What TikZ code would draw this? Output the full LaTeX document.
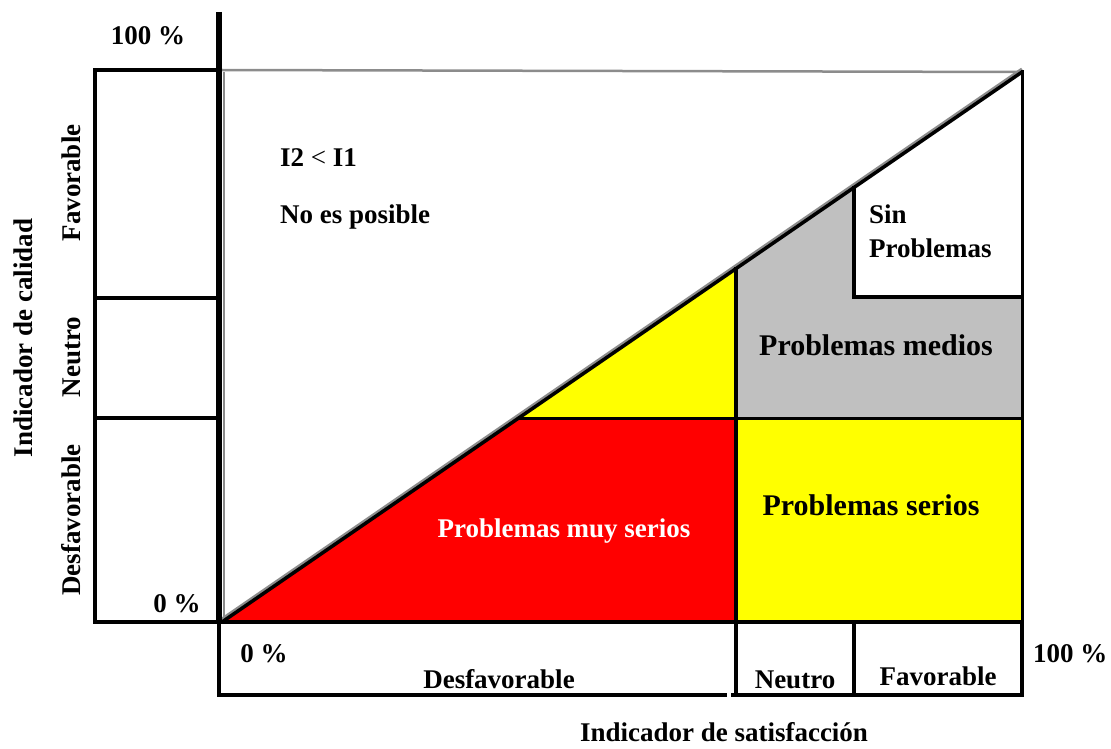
\documentclass[tikz,border=0pt]{standalone}
\usepackage{fontspec}
\setmainfont{Liberation Serif}
\definecolor{zonered}{RGB}{255,0,0}
\definecolor{zoneyellow}{RGB}{255,255,0}
\definecolor{zonegray}{RGB}{192,192,192}
\definecolor{edgegray}{RGB}{140,140,140}
\begin{document}
\begin{tikzpicture}[x=1pt,y=-1pt,
  lbl/.style={font=\fontsize{27}{30}\selectfont\bfseries, inner sep=0pt},
  zonelbl/.style={font=\fontsize{30}{33}\selectfont\bfseries, inner sep=0pt},
  frame/.style={line width=3.5pt, line cap=rect},
  heavy/.style={line width=5.5pt},
  shade/.style={edgegray, line width=2.5pt}]
\useasboundingbox (0,0) rectangle (1111,749);

% key points of the chart
\coordinate (O)  at (222,622);   % origin of the diagonal
\coordinate (T)  at (1022,72);   % top end of the diagonal
\coordinate (D1) at (518.7,418); % diagonal meets the upper limit of "desfavorable"
\coordinate (D2) at (736,268.6); % diagonal meets the neutral column
\coordinate (D3) at (854,187.5); % diagonal meets the favourable column

% coloured zones
\fill[zonered] (O) -- (D1) -- (736,418) -- (736,622) -- cycle;
\fill[zoneyellow] (D1) -- (D2) -- (736,418) -- cycle;
\fill[zonegray] (736,418) -- (D2) -- (D3) -- (854,297) -- (1022,297) -- (1022,418) -- cycle;
\fill[zoneyellow] (736,418) rectangle (1022,622);

% light edges of the plotting area
\draw[shade] (222,70) -- (T);
\draw[shade, line width=2pt] (223.5,72) -- (223.5,620);
\draw[shade, line width=3pt] (222,619) -- (1022,69);

% diagonal I1 = I2
\draw[line width=3.5pt] (O) -- (T);

% zone borders
\draw[frame] (D2) -- (736,695);
\draw[frame, line width=3pt] (D1) -- (1022,418);
\draw[frame] (D3) -- (854,297) -- (1022,297);
\draw[frame, line width=3pt] (T) -- (1022,622);

% quality scale on the left
\draw[frame, line width=4pt] (95,70) -- (219,70);
\draw[frame] (95,70) -- (95,622);
\draw[frame] (95,298) -- (219,298);
\draw[frame] (95,418) -- (219,418);

% satisfaction scale at the bottom
\draw[frame] (219,622) -- (219,695) -- (725,695);
\draw[frame] (733,695) -- (1022,695) -- (1022,622);
\draw[frame] (854,622) -- (854,695);

% axes
\draw[frame, line width=4.5pt] (95,622) -- (1022,622);
\draw[heavy] (219,12) -- (219,624);

% axis labels and scale marks
\node[lbl, anchor=base] (q100) at (148,45) {100 \%};
\node[lbl, anchor=base] (q0) at (177,612) {0 \%};
\node[lbl, anchor=base] (s0) at (264,662) {0 \%};
\node[lbl, anchor=base west] (s100) at (1033,662) {100 \%};

\node[lbl, anchor=base, rotate=90] (qlab) at (32,338) {Indicador de calidad};
\node[lbl, anchor=base, rotate=90] (qfav) at (80,183) {Favorable};
\node[lbl, anchor=base, rotate=90] (qneu) at (80,357) {Neutro};
\node[lbl, anchor=base, rotate=90] (qdes) at (80,520) {Desfavorable};

\node[lbl, anchor=base] (sdes) at (499,688) {Desfavorable};
\node[lbl, anchor=base] (sneu) at (795,688) {Neutro};
\node[lbl, anchor=base] (sfav) at (938,685) {Favorable};
\node[lbl, anchor=base] (slab) at (724,741) {Indicador de satisfacción};

% zone texts
\node[lbl, anchor=base west] (rel) at (280,167) {I2 \textmd{<} I1};
\node[lbl, anchor=base west] (imp) at (280,223) {No es posible};
\node[lbl, anchor=base west] (sin1) at (869,223) {Sin};
\node[lbl, anchor=base west] (sin2) at (869,257) {Problemas};
\node[zonelbl, anchor=base] (med) at (876,355) {Problemas medios};
\node[zonelbl, anchor=base] (ser) at (871,515) {Problemas serios};
\node[lbl, anchor=base, text=white] (mser) at (564,537) {Problemas muy serios};
\end{tikzpicture}
\end{document}
